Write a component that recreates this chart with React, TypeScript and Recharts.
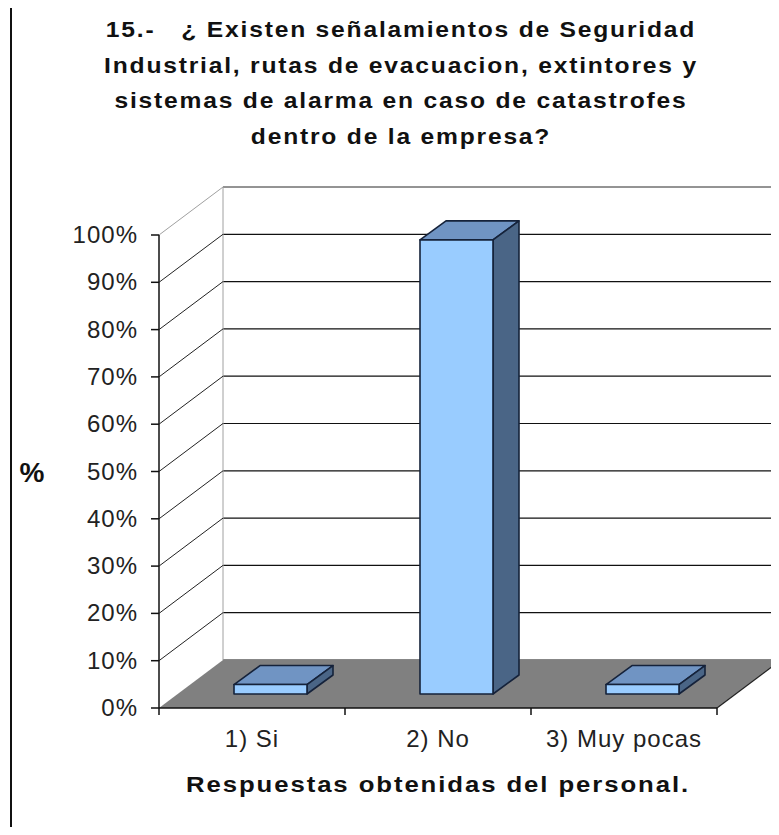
import React from 'react';
import { BarChart, Bar, XAxis, YAxis, CartesianGrid, ReferenceArea } from 'recharts';

const CATEGORIES = ['1) Si', '2) No', '3) Muy pocas'];
const VALUES = [2, 96, 2];
const Y_TICKS = [0, 10, 20, 30, 40, 50, 60, 70, 80, 90, 100];
const TITLE_LINES = [
  '15.-   ¿ Existen señalamientos de Seguridad',
  'Industrial, rutas de evacuacion, extintores y',
  'sistemas de alarma en caso de catastrofes',
  'dentro de la empresa?',
];
const X_TITLE = 'Respuestas obtenidas del personal.';
const Y_TITLE = '%';

const data = CATEGORIES.map((name, i) => ({ name, value: VALUES[i] }));

// fake 3d: depth of the walls and position of the bars inside it
const DX = 64;
const DY = 48;
const BAR_DX = -46;
const BAR_DY = 34;
const BAR_DEPTH_X = 26;
const BAR_DEPTH_Y = 19;
const PLOT_LEFT = 223;
const PLOT_BOTTOM = 660;
const FONT = '"Liberation Sans", Arial, sans-serif';

const Bar3D = (props: any) => {
  const { x, y, width, height } = props;
  const fx = x + BAR_DX;
  const fy = y + BAR_DY;
  const bx = BAR_DEPTH_X;
  const by = BAR_DEPTH_Y;
  return (
    <g stroke="#15223a" strokeWidth={1.6} strokeLinejoin="round">
      <polygon
        points={`${fx},${fy} ${fx + bx},${fy - by} ${fx + width + bx},${fy - by} ${fx + width},${fy}`}
        fill="#7094c3"
      />
      <polygon
        points={`${fx + width},${fy} ${fx + width + bx},${fy - by} ${fx + width + bx},${fy + height - by} ${fx + width},${fy + height}`}
        fill="#4a6586"
      />
      <rect x={fx} y={fy} width={width} height={height} fill="#99ccff" />
    </g>
  );
};

const Walls = (props: any) => {
  const { x, y, width, height } = props;
  const bottom = y + height;
  const fl = x - DX;
  const fb = bottom + DY;
  const n = CATEGORIES.length;
  const ticks = Array.from({ length: n + 1 }, (_, i) => fl + (width * i) / n);
  return (
    <g>
      <polygon
        points={`${x},${bottom} ${x + width},${bottom} ${x + width - DX},${fb} ${fl},${fb}`}
        fill="#808080"
      />
      <line x1={x + width - DX} y1={fb} x2={x + width} y2={bottom} stroke="#222" strokeWidth={1.2} />
      <line x1={x} y1={y} x2={x + width} y2={y} stroke="#a0a0a0" />
      <line x1={x} y1={y} x2={x} y2={bottom} stroke="#a0a0a0" />
      <line x1={x} y1={y} x2={fl} y2={y + DY} stroke="#a0a0a0" />
      <line x1={fl} y1={y + DY} x2={fl} y2={fb} stroke="#111" strokeWidth={1.5} />
      <line x1={fl} y1={fb} x2={fl + width} y2={fb} stroke="#111" strokeWidth={1.5} />
      {ticks.map((t, i) => (
        <line key={i} x1={t} y1={fb} x2={t} y2={fb + 7} stroke="#111" strokeWidth={1.5} />
      ))}
    </g>
  );
};

const YTick = (props: any) => {
  const { y, payload } = props;
  const v = payload.value;
  const fx = PLOT_LEFT - DX;
  const fy = y + DY;
  return (
    <g>
      {v > 0 && v < 100 && <line x1={PLOT_LEFT} y1={y} x2={fx} y2={fy} stroke="#222" />}
      <line x1={fx - 8} y1={fy} x2={fx} y2={fy} stroke="#111" strokeWidth={1.5} />
      <text
        x={fx - 21}
        y={fy + 8}
        textAnchor="end"
        fontFamily={FONT}
        fontSize={24}
        letterSpacing={1}
        fill="#222"
      >
        {`${v}%`}
      </text>
    </g>
  );
};

const XTick = (props: any) => {
  const { x, payload } = props;
  return (
    <text
      x={x - DX}
      y={PLOT_BOTTOM + DY + 39}
      textAnchor="middle"
      fontFamily={FONT}
      fontSize={24}
      letterSpacing={1}
      fill="#222"
    >
      {payload.value}
    </text>
  );
};

export default function App() {
  return (
    <div
      style={{
        position: 'relative',
        width: 779,
        height: 835,
        margin: -8,
        overflow: 'hidden',
        background: '#fff',
      }}
    >
      <BarChart
        width={781}
        height={835}
        data={data}
        margin={{ top: 187, right: 0, bottom: 145, left: 163 }}
        barSize={73}
      >
        <CartesianGrid vertical={false} stroke="#111" strokeWidth={1.2} />
        <ReferenceArea y1={0} y2={100} ifOverflow="visible" shape={<Walls />} />
        <XAxis dataKey="name" height={30} axisLine={false} tickLine={false} tick={<XTick />} />
        <YAxis
          domain={[0, 100]}
          ticks={Y_TICKS}
          width={60}
          axisLine={false}
          tickLine={false}
          tick={<YTick />}
          interval={0}
        />
        <Bar dataKey="value" isAnimationActive={false} shape={<Bar3D />} />
      </BarChart>
      <svg
        width={779}
        height={835}
        style={{ position: 'absolute', left: 0, top: 0, pointerEvents: 'none' }}
      >
        <rect x={11} y={7} width={800} height={840} fill="none" stroke="#111" strokeWidth={2} />
        {TITLE_LINES.map((line, i) => (
          <text
            key={i}
            transform={`translate(401, ${37 + i * 35.5}) scale(1.12, 1)`}
            textAnchor="middle"
            fontFamily={FONT}
            fontWeight="bold"
            fontSize={22}
            letterSpacing={1.6}
            fill="#111"
            xmlSpace="preserve"
            style={{ whiteSpace: 'pre' }}
          >
            {line}
          </text>
        ))}
        <text
          x={32}
          y={482}
          textAnchor="middle"
          fontFamily={FONT}
          fontWeight="bold"
          fontSize={28}
          fill="#111"
        >
          {Y_TITLE}
        </text>
        <text
          transform="translate(438, 792) scale(1.12, 1)"
          textAnchor="middle"
          fontFamily={FONT}
          fontWeight="bold"
          fontSize={23}
          letterSpacing={1.7}
          fill="#111"
        >
          {X_TITLE}
        </text>
      </svg>
    </div>
  );
}
